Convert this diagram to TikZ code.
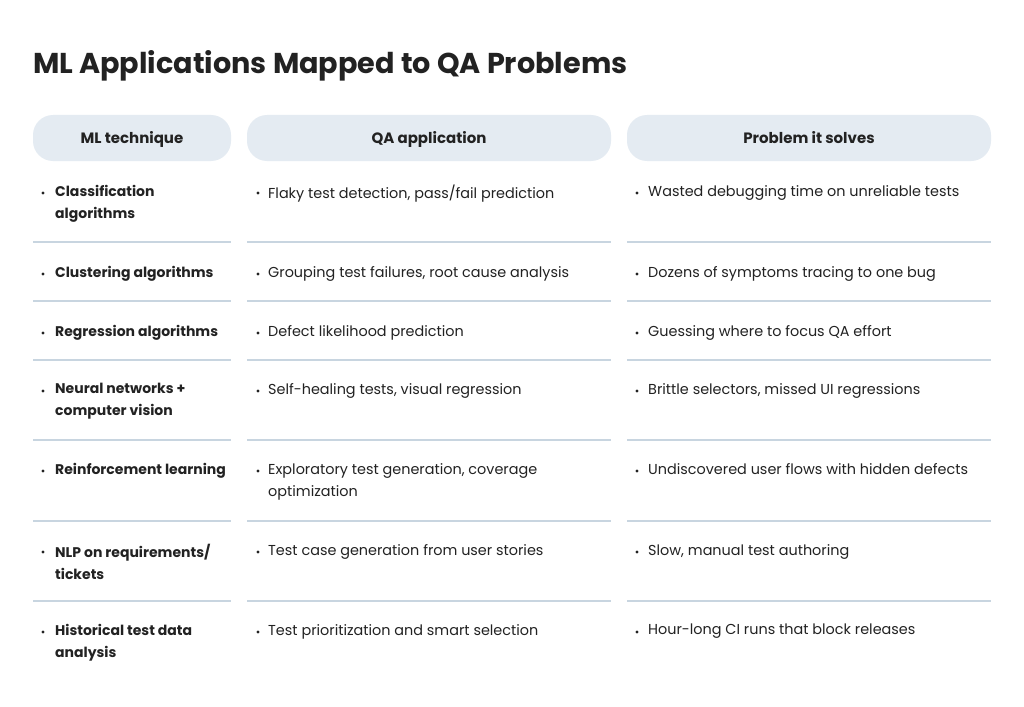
\documentclass[tikz,border=0pt]{standalone}
\usepackage{fontspec}
\setmainfont{Poppins}
\begin{document}
\begin{tikzpicture}[x=1pt,y=-1pt,
  hdr/.style={fill=hd,rounded corners=20pt,draw=none},
  htxt/.style={anchor=base,inner sep=0,font=\fontsize{15}{17}\selectfont\bfseries,text=tx},
  t1/.style={anchor=north west,inner sep=0,font=\fontsize{14}{22}\selectfont\bfseries,text=tx,align=left},
  t2/.style={anchor=north west,inner sep=0,font=\fontsize{14.4}{22}\selectfont,text=tx,align=left},
  sep/.style={draw=ln,line width=1.2pt}]
\definecolor{hd}{HTML}{E4EBF2}
\definecolor{tx}{HTML}{222222}
\definecolor{ln}{HTML}{C8D5E0}
\useasboundingbox[fill=white] (0,0) rectangle (1024,706);
\node[anchor=west,inner sep=0,font=\fontsize{28.7}{32}\selectfont\bfseries,text=tx] (title) at (33,66) {ML Applications Mapped to QA Problems};
\fill[hdr] (33,115) rectangle (231,161);
\fill[hdr] (247,115) rectangle (611,161);
\fill[hdr] (627,115) rectangle (991,161);
\node[htxt] (h1) at (132,143) {ML technique};
\node[htxt] (h2) at (429,143) {QA application};
\node[htxt] (h3) at (809,143) {Problem it solves};
\foreach \y in {242,301,360,440,521,601}{
  \draw[sep] (33,\y) -- (231,\y);
  \draw[sep] (247,\y) -- (611,\y);
  \draw[sep] (627,\y) -- (991,\y);
}
\foreach \y/\a/\b/\c [count=\i] in {
 191/{Classification\\algorithms}/{Flaky test detection, pass/fail prediction}/{Wasted debugging time on unreliable tests},
 272/{Clustering algorithms}/{Grouping test failures, root cause analysis}/{Dozens of symptoms tracing to one bug},
 331/{Regression algorithms}/{Defect likelihood prediction}/{Guessing where to focus QA effort},
 389/{Neural networks +\\computer vision}/{Self-healing tests, visual regression}/{Brittle selectors, missed UI regressions},
 469/{Reinforcement learning}/{Exploratory test generation, coverage\\optimization}/{Undiscovered user flows with hidden defects},
 550/{NLP on requirements/\\tickets}/{Test case generation from user stories}/{Slow, manual test authoring},
 630/{Historical test data\\analysis}/{Test prioritization and smart selection}/{Hour-long CI runs that block releases}}{
  \fill[tx] (43,\y+2) circle (1.6pt);
  \fill[tx] (258,\y+2) circle (1.6pt);
  \fill[tx] (637,\y+2) circle (1.6pt);
  \node[t1] (c1\i) at (55,\y-6) {\a};
  \node[t2] (c2\i) at (268,\y-6) {\b};
  \node[t2] (c3\i) at (648,\y-6) {\c};
}
\end{tikzpicture}
\end{document}
